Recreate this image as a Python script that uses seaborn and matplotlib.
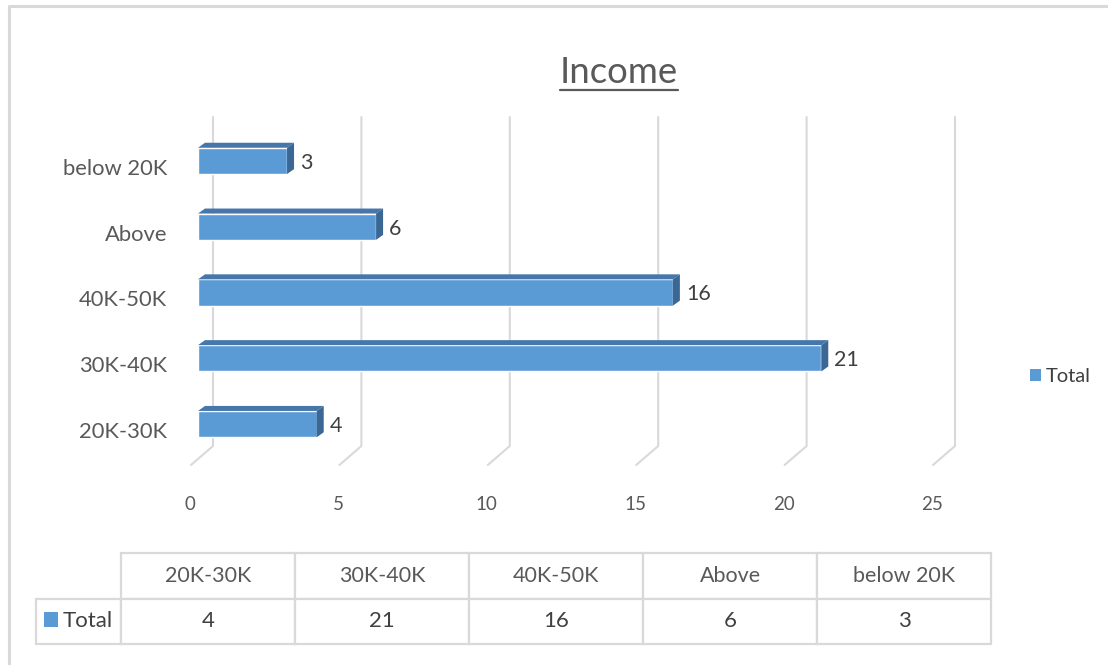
import numpy as np
import pandas as pd
import seaborn as sns
import matplotlib
matplotlib.use("Agg")
import matplotlib.pyplot as plt
from matplotlib.patches import Polygon, Rectangle, Patch
from matplotlib.lines import Line2D
from matplotlib.table import Table
from matplotlib.transforms import ScaledTranslation, IdentityTransform

# ---------------- data ----------------
categories = ["20K-30K", "30K-40K", "40K-50K", "Above", "below 20K"]
totals = [4, 21, 16, 6, 3]
x_ticks = [0, 5, 10, 15, 20, 25]
series_name = "Total"
title = "Income"

# ---------------- style ----------------
W, H, DPI = 1108, 665, 100
FRONT = "#5B9BD5"
TOP = "#4676AA"
SIDE = "#3A6794"
GRID = "#D9D9D9"
TXT = "#595959"
TXT2 = "#404040"

sns.set_theme(style="white")
plt.rcParams["font.family"] = ["Lato", "DejaVu Sans"]

fig = plt.figure(figsize=(W / DPI, H / DPI), dpi=DPI)
fig.patch.set_facecolor("white")


def px_rect(l, t, r, b):
    return [l / W, 1 - b / H, (r - l) / W, (b - t) / H]


def off(dx, dy):
    return ScaledTranslation(dx / DPI, dy / DPI, fig.dpi_scale_trans)


ax = fig.add_axes(px_rect(198, 128, 940, 457))
df = pd.DataFrame({"category": categories, "value": totals})
order = categories[::-1]
sns.barplot(data=df, y="category", x="value", order=order, orient="h",
            color=FRONT, saturation=1, width=0.40, errorbar=None, ax=ax)
ax.set_xlim(x_ticks[0], x_ticks[-1])
ax.set_ylim(len(order) - 0.5, -0.5)
ax.patch.set_visible(False)
for s in ax.spines.values():
    s.set_visible(False)
ax.set_xticks([])
ax.set_yticks([])
ax.set_xlabel("")
ax.set_ylabel("")

# back gridlines + floor diagonals (3D look), derived from axis ticks
BX, BY = 15, 11      # back-plane offset (px)
FX, FY = -7, -8      # floor-front offset (px)
ybot = ax.transAxes.transform((0, 0))[1]
ytop = ax.transAxes.transform((0, 1))[1]
for t in x_ticks:
    xd = ax.transData.transform((t, 0))[0]
    fig.add_artist(Line2D([xd + BX, xd + BX, xd + FX],
                          [ytop + BY, ybot + BY, ybot + FY],
                          transform=IdentityTransform(), color=GRID,
                          lw=1.5, zorder=-1))
    ax.text(t, 0, str(t), transform=ax.get_xaxis_transform() + off(FX - 1, -48),
            ha="center", va="center", fontsize=13.5, color=TXT)

# 3D faces on the bars
DX, DY = 7, 5
for p in ax.patches:
    x0, y0 = p.get_x(), p.get_y()
    x1, y1 = x0 + p.get_width(), y0 + p.get_height()
    (xl, ya), (xr, yb) = ax.transData.transform([(x0, y0), (x1, y1)])
    ylo, yhi = min(ya, yb), max(ya, yb)
    top = Polygon([(xl, yhi), (xr, yhi), (xr + DX, yhi + DY), (xl + DX, yhi + DY)],
                  closed=True, transform=IdentityTransform(), facecolor=TOP,
                  edgecolor="none", zorder=1)
    side = Polygon([(xr, ylo), (xr + DX, ylo + DY), (xr + DX, yhi + DY), (xr, yhi)],
                   closed=True, transform=IdentityTransform(), facecolor=SIDE,
                   edgecolor="none", zorder=1)
    fig.add_artist(top)
    fig.add_artist(side)
    yc = y0 + p.get_height() / 2
    ax.text(x1, yc, f"{p.get_width():g}", transform=ax.transData + off(DX + 6, -2),
            ha="left", va="center", fontsize=15.5, color=TXT2)

# category labels
for i, c in enumerate(order):
    ax.text(0, i, c, transform=ax.get_yaxis_transform() + off(-31, -8),
            ha="right", va="center", fontsize=15.8, color=TXT)

# legend
ax.legend(handles=[Patch(facecolor=FRONT, edgecolor="none")], labels=[series_name],
          loc="center left", bbox_to_anchor=(1030 / W, 1 - 377 / H),
          bbox_transform=fig.transFigure, frameon=False, handlelength=0.55,
          handleheight=0.55, handletextpad=0.25, borderpad=0, borderaxespad=0,
          fontsize=14.5, labelcolor=TXT2)

# title
ttl = fig.text(619 / W, 1 - 83 / H, title, ha="center", va="baseline",
               fontsize=26.3, color=TXT)

# data table (row-label column + one column per category)
tax = fig.add_axes(px_rect(36, 553, 991, 644))
tax.axis("off")
tbl = Table(tax, bbox=[0, 0, 1, 1])
col_w = [85] + [174] * len(categories)
col_w = [w / sum(col_w) for w in col_w]
tbl.add_cell(0, 0, col_w[0], 0.5, text="", loc="center").visible_edges = "open"
for j, c in enumerate(categories):
    cell = tbl.add_cell(0, j + 1, col_w[j + 1], 0.5, text=c, loc="center")
    cell.get_text().set_fontsize(15.5)
    cell.get_text().set_color(TXT)
rl = tbl.add_cell(1, 0, col_w[0], 0.5, text=series_name, loc="right")
rl.get_text().set_fontsize(16)
rl.get_text().set_color(TXT2)
for j, v in enumerate(totals):
    cell = tbl.add_cell(1, j + 1, col_w[j + 1], 0.5, text=f"{v:g}", loc="center")
    cell.get_text().set_fontsize(16)
    cell.get_text().set_color(TXT2)
tbl.auto_set_font_size(False)
for (r, c), cell in tbl.get_celld().items():
    cell.set_edgecolor(GRID)
    cell.set_linewidth(1.6)
    cell.set_facecolor("white")
tax.add_table(tbl)
# legend key in table row label
fig.add_artist(Rectangle((44, H - 627), 14, 15, transform=IdentityTransform(),
                         facecolor=FRONT, edgecolor="none", zorder=5))

# chart border
fig.add_artist(Line2D([9, 9, W], [0, H - 6, H - 6], transform=IdentityTransform(),
                      color=GRID, lw=2.2, zorder=-2))

# title underline
fig.canvas.draw()
bb = ttl.get_window_extent()
fig.add_artist(Line2D([bb.x0, bb.x1], [H - 90, H - 90], transform=IdentityTransform(),
                      color=TXT, lw=1.6))

fig.savefig("out.png", dpi=DPI, facecolor="white")
